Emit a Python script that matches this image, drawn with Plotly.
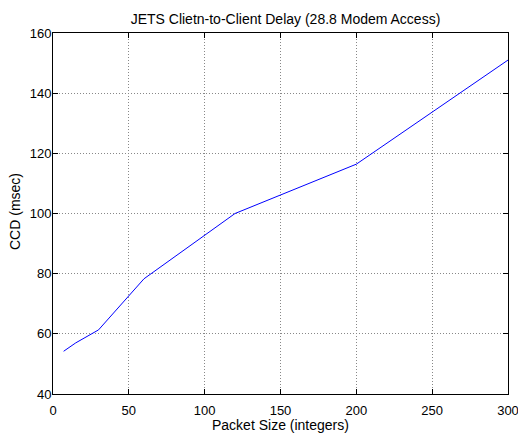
import plotly.graph_objects as go

packet_size = [7, 15, 30, 60, 120, 200, 300]
ccd_msec = [54.2, 57.0, 61.3, 78.3, 100.0, 116.4, 151.0]
x_ticks = [0, 50, 100, 150, 200, 250, 300]
y_ticks = [40, 60, 80, 100, 120, 140, 160]

FONT = "Liberation Sans, Arial, Helvetica, sans-serif"

fig = go.Figure()
fig.add_trace(go.Scatter(x=packet_size, y=ccd_msec, mode="lines",
                         line=dict(color="#0000ff", width=1), showlegend=False))

axis_common = dict(
    showline=True, linecolor="black", linewidth=1, mirror="ticks",
    ticks="inside", ticklen=5, tickcolor="black",
    showgrid=True, gridcolor="#888888", griddash="1px,2px", gridwidth=1,
    zeroline=False, automargin=False,
    tickfont=dict(family=FONT, size=13, color="black"),
)

# page body has an 8px margin, so the figure is sized/offset to compensate
W, H = 518, 427
L, R, T, B = 45, 18, 25, 41
pw, ph = W - L - R, H - T - B

fig.update_layout(
    width=W, height=H,
    margin=dict(l=L, r=R, t=T, b=B, autoexpand=False),
    paper_bgcolor="white", plot_bgcolor="white",
    font=dict(family=FONT, size=13, color="black"),
    title=dict(text="JETS Clietn-to-Client Delay (28.8 Modem Access)",
               x=277.5 / W, xanchor="center", y=1 - 11 / H, yanchor="middle",
               yref="container", font=dict(size=14, color="black"),
               automargin=False),
    xaxis=dict(range=[0, 300], tickvals=x_ticks, ticklabelstandoff=4, **axis_common),
    yaxis=dict(range=[40, 160], tickvals=y_ticks, ticklabelstandoff=-2, **axis_common),
    annotations=[
        dict(text="Packet Size (integers)", xref="paper", yref="paper",
             x=(280.5 - 8 - L) / pw, y=-31 / ph, xanchor="center", yanchor="middle",
             showarrow=False, font=dict(size=14, color="black")),
        dict(text="CCD (msec)", xref="paper", yref="paper", textangle=-90,
             x=-38 / pw, y=1 - 179 / ph, xanchor="center", yanchor="middle",
             showarrow=False, font=dict(size=14, color="black")),
    ],
)

fig.write_html("out.html")
